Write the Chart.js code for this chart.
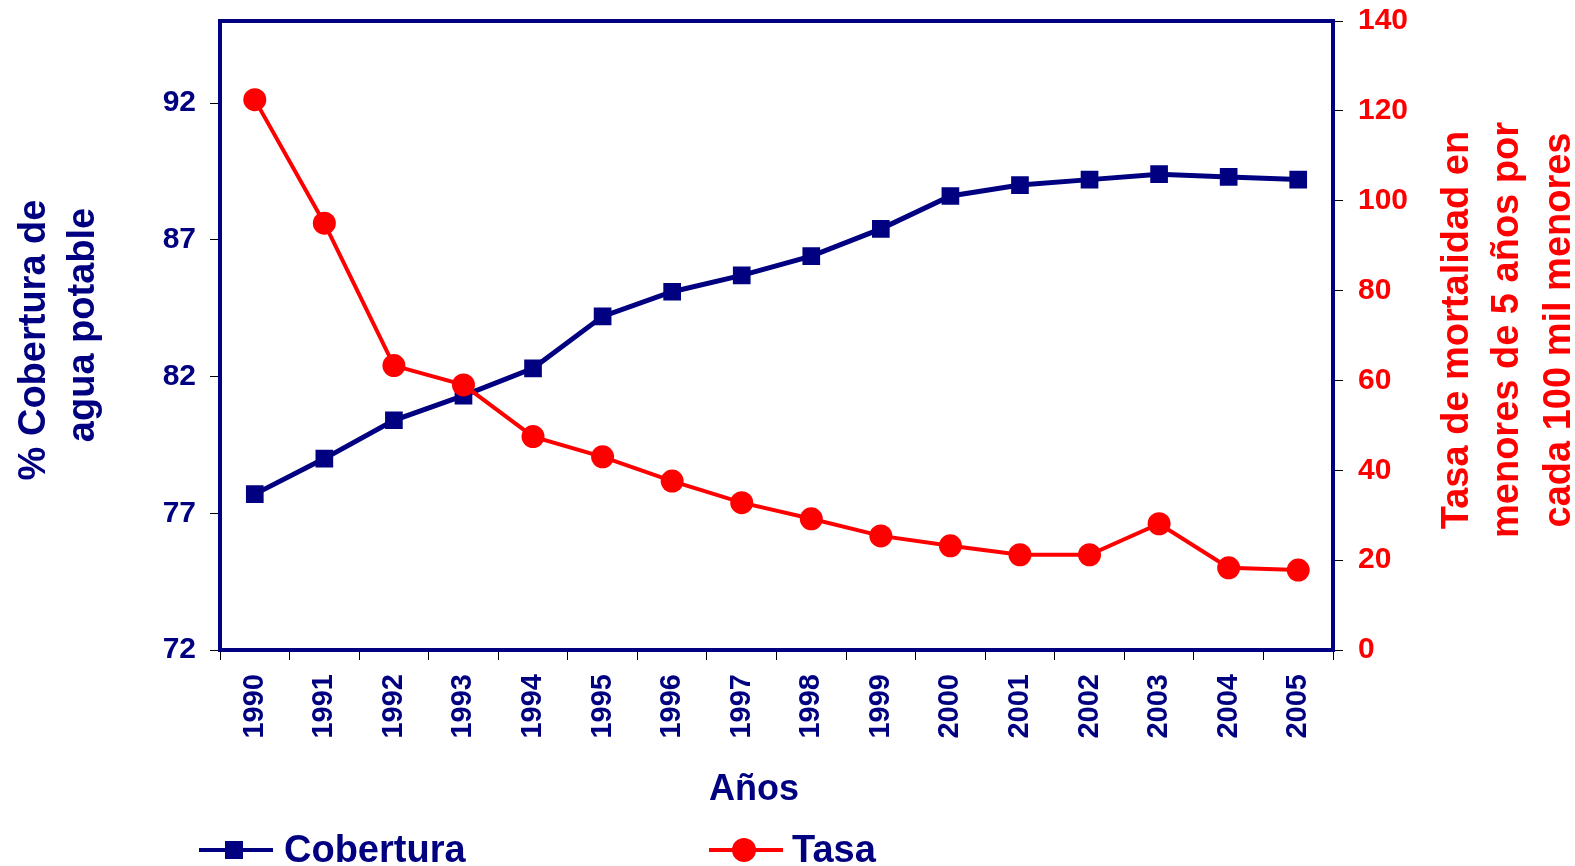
<!DOCTYPE html>
<html>
<head>
<meta charset="utf-8">
<script src="https://cdn.jsdelivr.net/npm/chart.js@4"></script>
<style>
  html, body { margin: 0; padding: 0; background: #fff; }
  canvas { display: block; }
</style>
</head>
<body>
<canvas id="chart" width="1575" height="866"></canvas>
<script>
// data
const years = ["1990", "1991", "1992", "1993", "1994", "1995", "1996", "1997",
               "1998", "1999", "2000", "2001", "2002", "2003", "2004", "2005"];
const cobertura = [77.7, 79.0, 80.4, 81.3, 82.3, 84.2, 85.1, 85.7,
                   86.4, 87.4, 88.6, 89.0, 89.2, 89.4, 89.3, 89.2];
const tasa = [122.5, 95.0, 63.3, 59.0, 47.5, 43.0, 37.6, 32.8,
              29.2, 25.4, 23.2, 21.2, 21.2, 28.1, 18.3, 17.8];
const leftTicks = [72, 77, 82, 87, 92];
const rightTicks = [0, 20, 40, 60, 80, 100, 120, 140];

const NAVY = "#000080";
const RED = "#ff0000";
const FONT = "'Liberation Sans', Arial, sans-serif";

// titles, frame and legend drawn on top
const decor = {
  id: "decor",
  afterDraw(chart) {
    const ctx = chart.ctx;
    const a = chart.chartArea;
    ctx.save();
    // frame
    ctx.strokeStyle = NAVY;
    ctx.lineWidth = 4;
    ctx.strokeRect(a.left, a.top, a.right - a.left, a.bottom - a.top);

    // left title
    ctx.fillStyle = NAVY;
    ctx.font = "bold 38px " + FONT;
    ctx.textAlign = "center";
    ctx.textBaseline = "alphabetic";
    const rot = (txt, x, y) => {
      ctx.save();
      ctx.translate(x, y);
      ctx.rotate(-Math.PI / 2);
      ctx.fillText(txt, 0, 0);
      ctx.restore();
    };
    rot("% Cobertura de", 45, 340);
    rot("agua potable", 94, 325);

    // right title
    ctx.fillStyle = RED;
    rot("Tasa de mortalidad en", 1468, 330);
    rot("menores de 5 años por", 1518, 330);
    rot("cada 100 mil menores", 1570, 330);

    // x title
    ctx.fillStyle = NAVY;
    ctx.font = "bold 36px " + FONT;
    ctx.fillText("Años", 754, 800);

    // legend
    ctx.font = "bold 38px " + FONT;
    ctx.textAlign = "left";
    ctx.lineWidth = 4;
    ctx.strokeStyle = NAVY;
    ctx.beginPath(); ctx.moveTo(199, 850); ctx.lineTo(273, 850); ctx.stroke();
    ctx.fillRect(225, 841, 18, 18);
    ctx.fillText("Cobertura", 284, 862);

    ctx.strokeStyle = RED;
    ctx.fillStyle = RED;
    ctx.beginPath(); ctx.moveTo(709, 850); ctx.lineTo(783, 850); ctx.stroke();
    ctx.beginPath(); ctx.arc(744, 850, 12, 0, Math.PI * 2); ctx.fill();
    ctx.fillStyle = NAVY;
    ctx.fillText("Tasa", 792, 862);
    ctx.restore();
  }
};

new Chart(document.getElementById("chart"), {
  type: "line",
  data: {
    labels: years,
    datasets: [
      {
        label: "Tasa",
        data: tasa,
        yAxisID: "y1",
        order: 0,
        borderColor: RED,
        backgroundColor: RED,
        borderWidth: 4,
        pointStyle: "circle",
        pointRadius: 11.5,
        pointHoverRadius: 11.5,
        pointBorderWidth: 0,
        tension: 0
      },
      {
        label: "Cobertura",
        data: cobertura,
        yAxisID: "y",
        order: 1,
        borderColor: NAVY,
        backgroundColor: NAVY,
        borderWidth: 5,
        pointStyle: "rect",
        pointRadius: 12.5,
        pointHoverRadius: 12.5,
        pointBorderWidth: 0,
        tension: 0
      }
    ]
  },
  options: {
    responsive: false,
    animation: false,
    devicePixelRatio: 1,
    layout: { padding: { top: 21, left: 0, right: 0, bottom: 0 } },
    plugins: { legend: { display: false }, tooltip: { enabled: false } },
    scales: {
      x: {
        type: "category",
        offset: true,
        afterFit(s) { s.height = 216; },
        border: { display: false },
        grid: { offset: true, drawOnChartArea: false, tickLength: 10, color: "#000", lineWidth: 1 },
        ticks: {
          color: NAVY,
          font: { family: FONT, size: 29, weight: "bold" },
          minRotation: 90, maxRotation: 90,
          padding: 14,
          autoSkip: false
        }
      },
      y: {
        position: "left",
        min: 72, max: 95,
        afterFit(s) { s.width = 220; s.paddingTop = 0; },
        afterBuildTicks(s) { s.ticks = leftTicks.map(v => ({ value: v })); },
        border: { display: false },
        grid: { drawOnChartArea: false, tickLength: 10, color: "#000", lineWidth: 1 },
        ticks: { color: NAVY, padding: 14, font: { family: FONT, size: 30, weight: "bold", lineHeight: 0.5 } }
      },
      y1: {
        position: "right",
        min: 0, max: 140,
        afterFit(s) { s.width = 242; s.paddingTop = 0; },
        afterBuildTicks(s) { s.ticks = rightTicks.map(v => ({ value: v })); },
        border: { display: false },
        grid: { drawOnChartArea: false, tickLength: 10, color: "#000", lineWidth: 1 },
        ticks: { color: RED, padding: 15, font: { family: FONT, size: 30, weight: "bold", lineHeight: 0.5 } }
      }
    }
  },
  plugins: [decor]
});
</script>
</body>
</html>
